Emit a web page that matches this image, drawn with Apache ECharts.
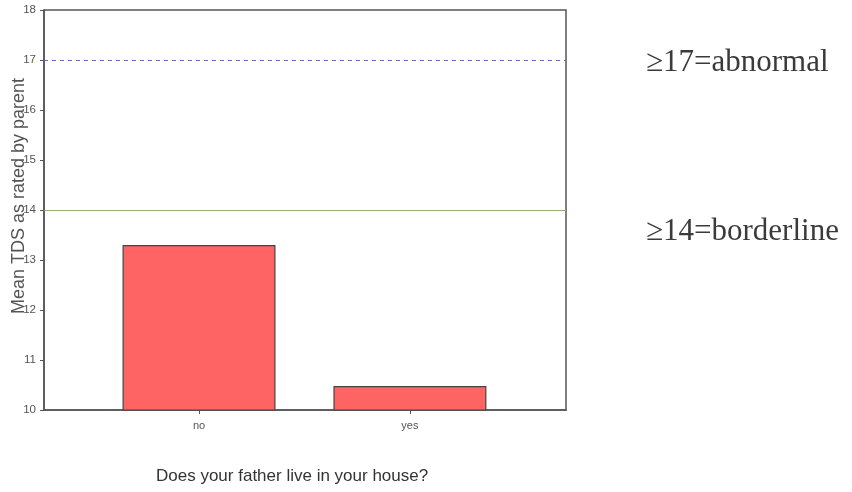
<!DOCTYPE html>
<html>
<head>
<meta charset="utf-8">
<script src="https://cdn.jsdelivr.net/npm/echarts@6/dist/echarts.min.js"></script>
<style>
html, body { margin: 0; padding: 0; background: #fff; }
#main { width: 852px; height: 492px; }
</style>
</head>
<body>
<div id="main"></div>
<script>
// 数据
var categories = ['no', 'yes'];
var categoryPos = [1, 2];
var meanTDS = [13.3, 10.48];
var yTicks = [10, 11, 12, 13, 14, 15, 16, 17, 18];
var cutoffs = [17, 14];
var cutoffNotes = ['≥17=abnormal', '≥14=borderline'];

(function() {
    var myChart = echarts.init(document.querySelector('#main'));
    var barData = categoryPos.map(function(x, i) { return [x, meanTDS[i]]; });

    var option = {
        animation: false,
        backgroundColor: '#fff',
        title: {
            text: 'Does your father live in your house?',
            left: 151,
            top: 463,
            textStyle: { fontFamily: 'Liberation Sans', fontSize: 17, fontWeight: 'normal', color: '#333' }
        },
        graphic: [
            {
                type: 'text', left: 646, top: 47,
                style: { text: cutoffNotes[0], font: '31px "Liberation Serif"', fill: '#3a3a3a' }
            },
            {
                type: 'text', left: 646, top: 216,
                style: { text: cutoffNotes[1], font: '31px "Liberation Serif"', fill: '#3a3a3a' }
            }
        ],
        grid: {
            left: 44, right: 286, top: 10, bottom: 82,
            outerBoundsMode: 'none',
            show: true,
            borderColor: '#555',
            borderWidth: 1.5
        },
        xAxis: {
            type: 'value',
            min: 0.265,
            max: 2.74,
            splitLine: { show: false },
            axisLine: { show: true, lineStyle: { color: '#555', width: 1.5 } },
            axisTick: { show: true, customValues: categoryPos, length: 4, lineStyle: { color: '#555' } },
            axisLabel: {
                customValues: categoryPos,
                formatter: function(v) { return categories[categoryPos.indexOf(v)] || ''; },
                color: '#555', fontFamily: 'Liberation Sans', fontSize: 11, margin: 10
            }
        },
        yAxis: {
            type: 'value',
            min: yTicks[0],
            max: yTicks[yTicks.length - 1],
            interval: 1,
            name: 'Mean TDS as rated by parent',
            nameLocation: 'middle',
            nameGap: 16,
            nameMoveOverlap: false,
            nameTextStyle: { fontFamily: 'Liberation Sans', fontSize: 18, color: '#555', padding: [0, 0, 0, 28] },
            splitLine: { show: false },
            axisLine: { show: true, lineStyle: { color: '#555', width: 1.5 } },
            axisTick: { show: true, length: 4, lineStyle: { color: '#555' } },
            axisLabel: { color: '#555', fontFamily: 'Liberation Sans', fontSize: 11.5, margin: 8 }
        },
        series: [{
            type: 'bar',
            data: barData,
            barWidth: 153,
            itemStyle: { color: '#fe6464', borderColor: '#444', borderWidth: 1.2 },
            markLine: {
                symbol: 'none',
                silent: true,
                label: { show: false },
                data: [
                    { yAxis: cutoffs[0], lineStyle: { color: '#6a6ab8', type: [4, 4], width: 1.2 } },
                    { yAxis: cutoffs[1], lineStyle: { color: '#8fb06a', type: 'solid', width: 1.2 } }
                ]
            }
        }]
    };
    myChart.setOption(option);
    window.addEventListener('resize', function() {
        myChart.resize();
    });
})();
</script>
</body>
</html>
